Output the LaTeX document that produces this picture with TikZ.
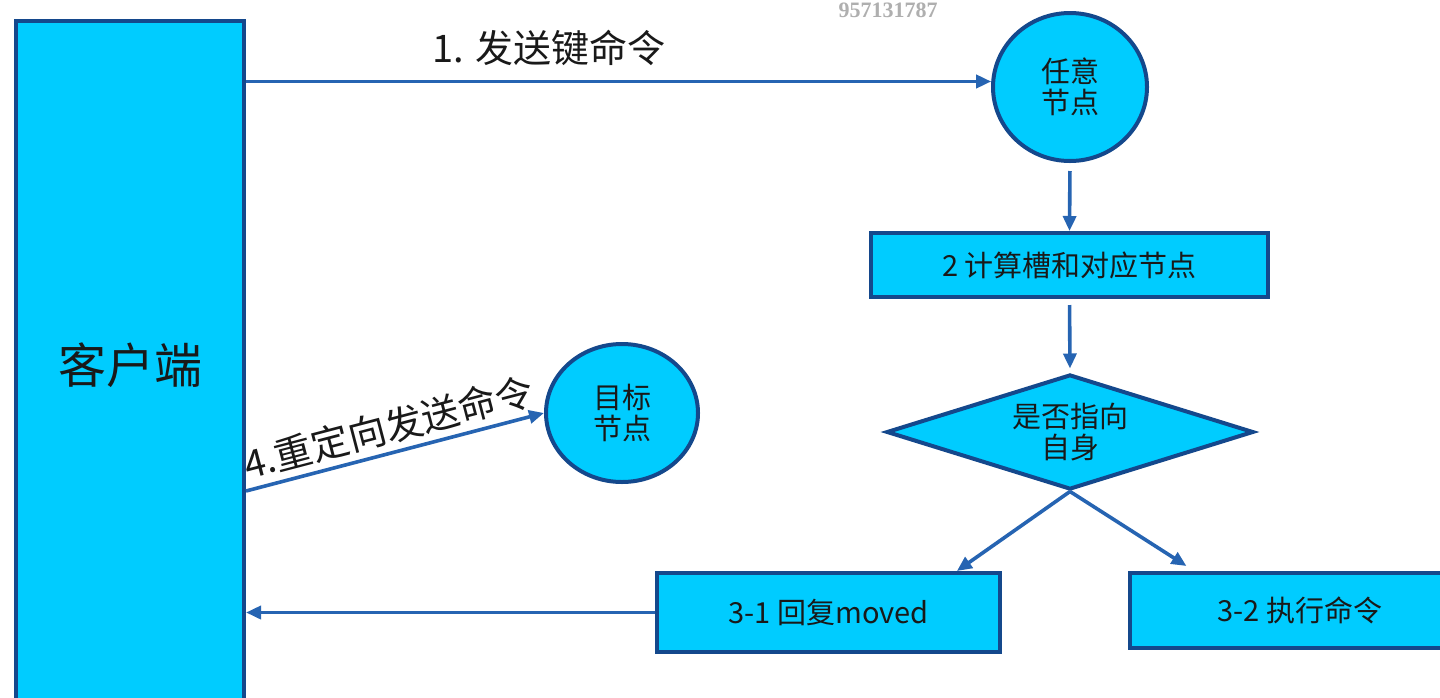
\documentclass[tikz,border=0pt]{standalone}
\usepackage{fontspec}
\newfontfamily\cjk{Noto Sans CJK SC}
\newfontfamily\wmfont{Liberation Serif}
\usetikzlibrary{arrows.meta,shapes.geometric,calc}
\definecolor{boxfill}{RGB}{0,204,255}
\definecolor{boxline}{RGB}{20,72,140}
\definecolor{arrowc}{RGB}{38,100,178}
\definecolor{wmgray}{RGB}{175,175,175}
\definecolor{txt}{RGB}{25,25,25}
\begin{document}
\begin{tikzpicture}[x=0.5pt,y=-0.5pt,
  shapebox/.style={draw=boxline, fill=boxfill, line width=2pt, text=txt, font=\cjk\fontsize{14.5}{15.5}\selectfont, align=center, inner sep=0pt},
  conn/.style={draw=arrowc, line width=1.8pt, -{Triangle[length=7.5pt,width=6.5pt]}},
  lbl/.style={text=txt, font=\cjk\fontsize{19}{22}\selectfont, inner sep=0pt}
]
\useasboundingbox (0,0) rectangle (1440,697);
\clip (0,0) rectangle (1440,697);
\fill[white] (0,0) rectangle (1440,697);
\node[shapebox, rectangle, minimum width=114pt, minimum height=344pt, font=\cjk\fontsize{24}{28}\selectfont] (client) at (130,365) {客户端};
\node[shapebox, ellipse, minimum width=77pt, minimum height=74pt] (any) at (1070,87) {任意\\节点};
\node[shapebox, rectangle, minimum width=198.5pt, minimum height=32pt] (slotcalc) at (1069.5,265) {2 计算槽和对应节点};
\node[shapebox, diamond, shape aspect=3.19, minimum width=183.5pt, minimum height=57.5pt] (dec) at (1070,432) {是否指向\\自身};
\node[shapebox, rectangle, minimum width=171.5pt, minimum height=39.5pt] (r31) at (828.5,612.5) {3-1 回复moved};
\node[shapebox, rectangle, minimum width=170pt, minimum height=37.5pt] (r32) at (1300,610.5) {3-2 执行命令};
\node[shapebox, ellipse, minimum width=76pt, minimum height=69pt] (target) at (622,413) {目标\\节点};
\node[font=\wmfont\bfseries\fontsize{11}{13}\selectfont, text=wmgray, inner sep=0pt] (wm) at (888,10) {957131787};
\draw[conn] (client.east |- any.176) -- (any.176) node[lbl, pos=0.406, above=7pt] (l1) {1. 发送键命令};
\draw[conn, shorten <=4pt] (any.south) -- (slotcalc.north);
\draw[conn, shorten <=3pt, shorten >=2pt] (slotcalc.south) -- (dec.north);
\draw[conn] (dec.south) -- ($(r31.north west)!0.87!(r31.north east)$);
\draw[conn] (dec.south) -- ($(r32.north west)!0.17!(r32.north east)+(0,-5)$);
\draw[conn] (r31.west) -- (client.east |- r31.west);
\draw[conn] ($(client.north east)+(0,472)$) -- (target.west) node[lbl, midway, sloped, above=3pt] (l4) {4.重定向发送命令};
\end{tikzpicture}
\end{document}
